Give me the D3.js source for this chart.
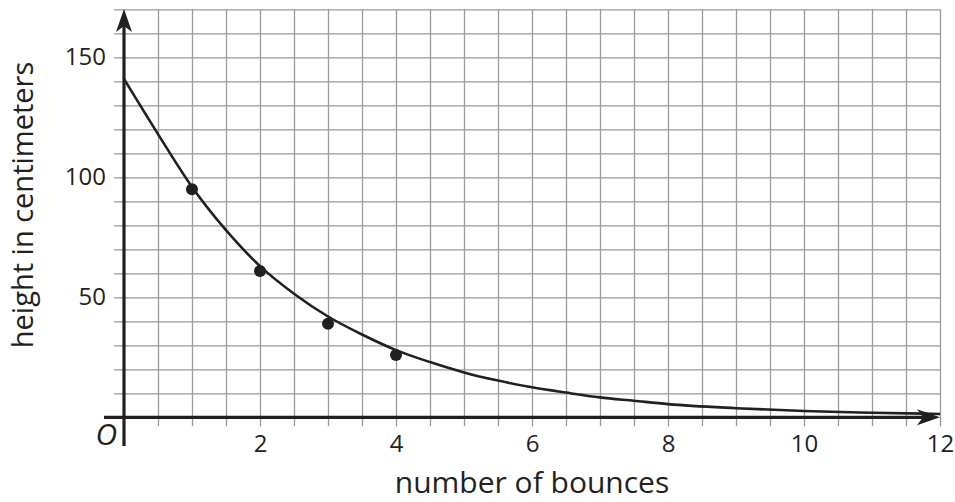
<!DOCTYPE html>
<html>
<head>
<meta charset="utf-8">
<script src="https://cdn.jsdelivr.net/npm/d3@7"></script>
<style>
  body { margin: 0; background: #fff; }
  svg { display: block; }
  text { font-family: "Open Sans", sans-serif; fill: #231f20; }
  .grid line { stroke: #9a9a9a; stroke-width: 1.3; }
  .grid .domain { display: none; }
  .labels .domain { display: none; }
  .labels line { display: none; }
</style>
</head>
<body>
<div class="container"></div>
<script>
// measured bounce heights
var bounces = [1, 2, 3, 4];
var heights = [95, 61, 39, 26];

// fitted curve
var curveX = [0, 0.5, 1, 1.5, 2, 2.5, 3, 3.5, 4, 4.5, 5, 5.5, 6, 6.5, 7, 7.5, 8, 9, 10, 11, 12];
var curveY = [141, 118, 96, 78, 63, 51.5, 42, 34.5, 28, 23, 18.7, 15.3, 12.5, 10.3, 8.3, 6.9, 5.5, 3.8, 2.6, 1.9, 1.4];

var xTicks = [2, 4, 6, 8, 10, 12];
var yTicks = [50, 100, 150];

const WIDTH = 955;
const HEIGHT = 502;
const INK = '#231f20';

var svg = d3.select('.container').append('svg')
  .attr('width', WIDTH)
  .attr('height', HEIGHT);

var xScale = d3.scaleLinear().domain([0, 12]).range([124, 940]);
var yScale = d3.scaleLinear().domain([0, 170]).range([417.3, 9.3]);

var translate = function (x, y) {
  return 'translate(' + x + ',' + y + ')';
};

// grid
var gridBottom = yScale(0) + 9;
svg.append('g')
  .classed('grid', true)
  .attr('transform', translate(0, gridBottom))
  .call(d3.axisTop(xScale)
    .tickValues(d3.range(0.5, 12.01, 0.5))
    .tickSize(gridBottom - yScale(170))
    .tickFormat(''));

var gridLeft = xScale(0) - 10;
svg.append('g')
  .classed('grid', true)
  .attr('transform', translate(gridLeft, 0))
  .call(d3.axisRight(yScale)
    .tickValues(d3.range(10, 170.01, 10))
    .tickSize(xScale(12) - gridLeft)
    .tickFormat(''));

// tick labels
svg.append('g')
  .classed('labels', true)
  .attr('transform', translate(0, yScale(0)))
  .call(d3.axisBottom(xScale).tickValues(xTicks).tickSize(0).tickPadding(18))
  .selectAll('text')
  .attr('font-size', 24)
  .attr('font-family', '"Open Sans", sans-serif')
  .attr('fill', INK);

svg.append('g')
  .classed('labels', true)
  .attr('transform', translate(xScale(0), 0))
  .call(d3.axisLeft(yScale).tickValues(yTicks).tickSize(0).tickPadding(18))
  .selectAll('text')
  .attr('font-size', 24)
  .attr('font-family', '"Open Sans", sans-serif')
  .attr('fill', INK);

// axes with arrow heads
var x0 = xScale(0), y0 = yScale(0);
svg.append('line')
  .attr('x1', 104).attr('y1', y0)
  .attr('x2', xScale(12) - 10).attr('y2', y0)
  .attr('stroke', INK).attr('stroke-width', 3.2);
svg.append('line')
  .attr('x1', x0).attr('y1', 446)
  .attr('x2', x0).attr('y2', 20)
  .attr('stroke', INK).attr('stroke-width', 3.2);

var tipX = xScale(12);
svg.append('path')
  .attr('d', 'M' + tipX + ',' + y0 + 'L' + (tipX - 23) + ',' + (y0 - 8) +
    'L' + (tipX - 17) + ',' + y0 + 'L' + (tipX - 23) + ',' + (y0 + 8) + 'Z')
  .attr('fill', INK);
var tipY = 9;
svg.append('path')
  .attr('d', 'M' + x0 + ',' + tipY + 'L' + (x0 - 8) + ',' + (tipY + 23) +
    'L' + x0 + ',' + (tipY + 17) + 'L' + (x0 + 8) + ',' + (tipY + 23) + 'Z')
  .attr('fill', INK);

// curve
var curvePts = curveX.map(function (d, i) { return [d, curveY[i]]; });
var line = d3.line()
  .x(function (d) { return xScale(d[0]); })
  .y(function (d) { return yScale(d[1]); })
  .curve(d3.curveMonotoneX);

svg.append('path')
  .attr('d', line(curvePts))
  .attr('fill', 'none')
  .attr('stroke', INK)
  .attr('stroke-width', 2.6);

// points
svg.selectAll('.dot').data(bounces)
  .enter().append('circle')
  .classed('dot', true)
  .attr('cx', function (d) { return xScale(d); })
  .attr('cy', function (d, i) { return yScale(heights[i]); })
  .attr('r', 6)
  .attr('fill', INK);

// origin
svg.append('text')
  .attr('x', 117).attr('y', 445)
  .attr('text-anchor', 'end')
  .attr('font-family', '"DejaVu Serif", serif')
  .attr('font-style', 'italic')
  .attr('font-size', 30)
  .text('O');

// axis titles
svg.append('text')
  .attr('x', (xScale(0) + xScale(12)) / 2)
  .attr('y', 493)
  .attr('text-anchor', 'middle')
  .attr('font-size', 30)
  .text('number of bounces');

svg.append('text')
  .attr('transform', translate(33, 205) + ' rotate(-90)')
  .attr('text-anchor', 'middle')
  .attr('font-size', 29)
  .text('height in centimeters');
</script>
</body>
</html>
